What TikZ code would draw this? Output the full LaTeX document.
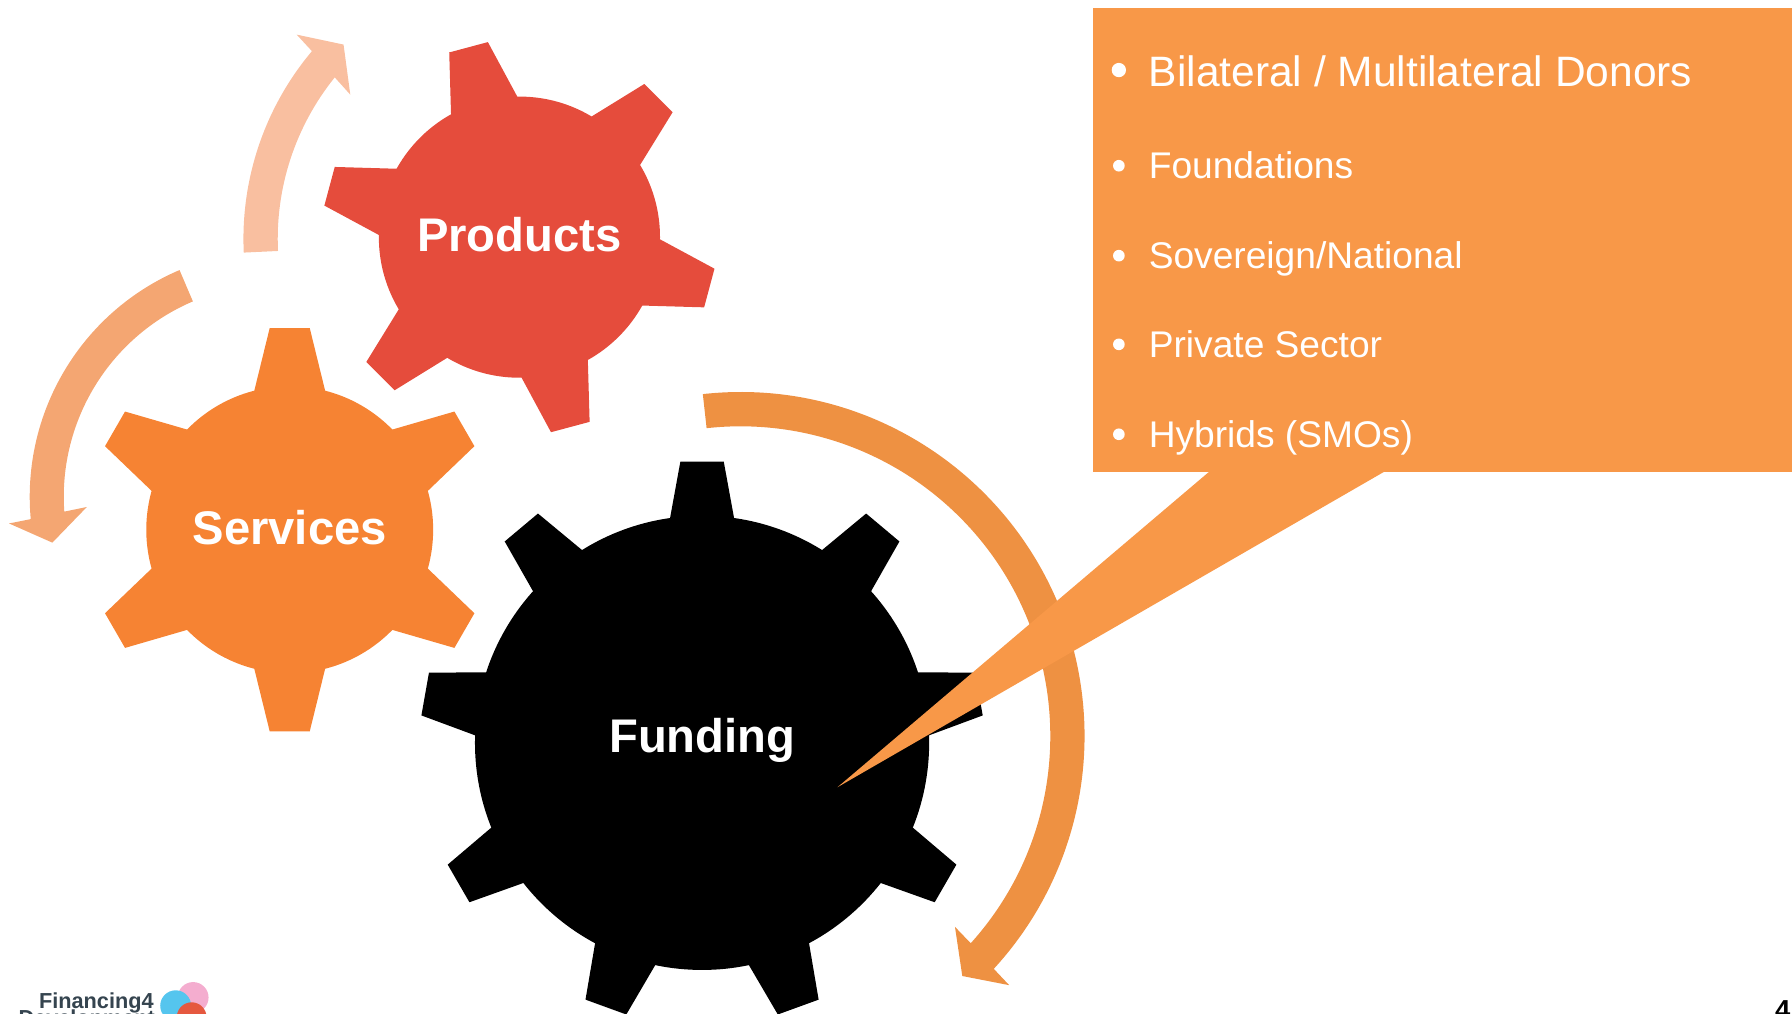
\documentclass[tikz,border=0pt]{standalone}
\usepackage{fontspec}
\setmainfont{Liberation Sans}
\usetikzlibrary{calc}
\definecolor{cprod}{HTML}{E54C3C}
\definecolor{cserv}{HTML}{F68333}
\definecolor{ctop}{HTML}{F9BFA0}
\definecolor{cleft}{HTML}{F4A672}
\definecolor{cright}{HTML}{EE9142}
\definecolor{cbox}{HTML}{F89848}
\definecolor{clogo}{HTML}{35444F}
\definecolor{lpink}{HTML}{F4ADCF}
\definecolor{lblue}{HTML}{55C5EE}
\definecolor{lred}{HTML}{E5583F}
\newcommand{\gearshape}[9]{%
 % #1 x, #2 y, #3 body r, #4 tip R, #5 base half width, #6 tip half width, #7 start angle, #8 count, #9 colour
 \fill[#9] (#1,#2) circle[radius=#3];
 \foreach \k in {1,...,#8}{
  \pgfmathsetmacro{\ang}{#7+360*(\k-1)/#8}
  \pgfmathsetmacro{\bx}{10*sqrt((#3/10)*(#3/10)-(#5/10)*(#5/10))}
  \fill[#9,shift={(#1,#2)},rotate=\ang] (#3-8,-#5) -- (\bx,-#5) -- (#4,-#6) -- (#4,#6) -- (\bx,#5) -- (#3-8,#5) -- cycle;
 }%
}
% block arc: #1 colour, #2 centre, #3 outer r, #4 inner r, #5 start angle, #6 outer end, #7 inner end, #8 three head points
\newcommand{\blockarrow}[8]{%
 \fill[#1] (#2) ++(-#5:#3) arc[start angle=-#5,end angle=-#6,radius=#3] -- #8 -- ($(#2)+(-#7:#4)$) arc[start angle=-#7,end angle=-#5,radius=#4] -- cycle;
}
\tikzset{
 gearlabel/.style={text=white,font=\bfseries\fontsize{41.3}{48}\selectfont,inner sep=0pt,anchor=base},
 bullettext/.style={text=white,anchor=base west,inner sep=0pt,font=\fontsize{32.5}{38}\selectfont},
 bulletdot/.style={fill=white,circle,inner sep=0pt,minimum size=10.2pt},
 logotext/.style={text=clogo,anchor=base west,inner sep=0pt,font=\bfseries\fontsize{19}{22}\selectfont}}
\begin{document}
\begin{tikzpicture}[x=1pt,y=-1pt]
\useasboundingbox (0,0) rectangle (1568,886.4);
\clip (0,0) rectangle (1568,886.4);
% circular arrows
\coordinate (ctopc) at (468,209);
\coordinate (cleftc) at (241.7,434.7);
\coordinate (crightc) at (648,644);
\blockarrow{ctop}{ctopc}{255}{225}{182.7}{139.9}{141.1}{(259.6,30.3) -- (300.6,39) -- (306.5,82.8)}
\blockarrow{cleft}{cleftc}{215.7}{185.9}{113.1}{185.2}{184}{(7.9,458) -- (45.8,474.8) -- (76,443.6)}
\blockarrow{cright}{crightc}{301}{271}{96.3}{-42.6}{-42}{(883,862) -- (842,854) -- (835.6,811)}
% gears
\gearshape{454.5}{207.5}{123}{172}{30}{17.5}{45}{6}{cprod}
\gearshape{253.5}{463.5}{125.5}{176.5}{31}{17.5}{90}{6}{cserv}
\gearshape{614.3}{650}{198.7}{246}{28}{19}{90}{9}{black}
\node[gearlabel] (products) at (454.5,220.2) {Products};
\node[gearlabel] (services) at (253.5,476) {Services};
\node[gearlabel] (funding) at (614.5,658.4) {Funding};
% callout
\fill[cbox] (956.4,7) rectangle (1568,412.7);
\fill[cbox] (1058.9,412) -- (732.8,688.8) -- (1212.5,412) -- cycle;
\node[bulletdot,minimum size=12.5pt] (b1) at (979,61.3) {};
\node[bulletdot] (b2) at (979,145) {};
\node[bulletdot] (b3) at (979,223.7) {};
\node[bulletdot] (b4) at (979,301.3) {};
\node[bulletdot] (b5) at (979,380) {};
\node[bullettext,font=\fontsize{37.2}{44}\selectfont] (t1) at (1005,75.3) {Bilateral / Multilateral Donors};
\node[bullettext] (t2) at (1005,156.3) {Foundations};
\node[bullettext] (t3) at (1005,234.8) {Sovereign/National};
\node[bullettext] (t4) at (1005,313) {Private Sector};
\node[bullettext] (t5) at (1005,391.4) {Hybrids (SMOs)};
% logo
\fill[lpink] (169,872.8) circle[radius=13.5];
\fill[lblue] (153.7,880) circle[radius=13.5];
\fill[lred] (167.7,890) circle[radius=13];
\node[logotext] (logo1) at (34,882.6) {Financing4};
\node[logotext] (logo2) at (16,897) {Development};
% page number
\node[anchor=base west,inner sep=0pt,font=\bfseries\fontsize{24}{28}\selectfont] (pg) at (1553,892) {4};
\end{tikzpicture}
\end{document}
